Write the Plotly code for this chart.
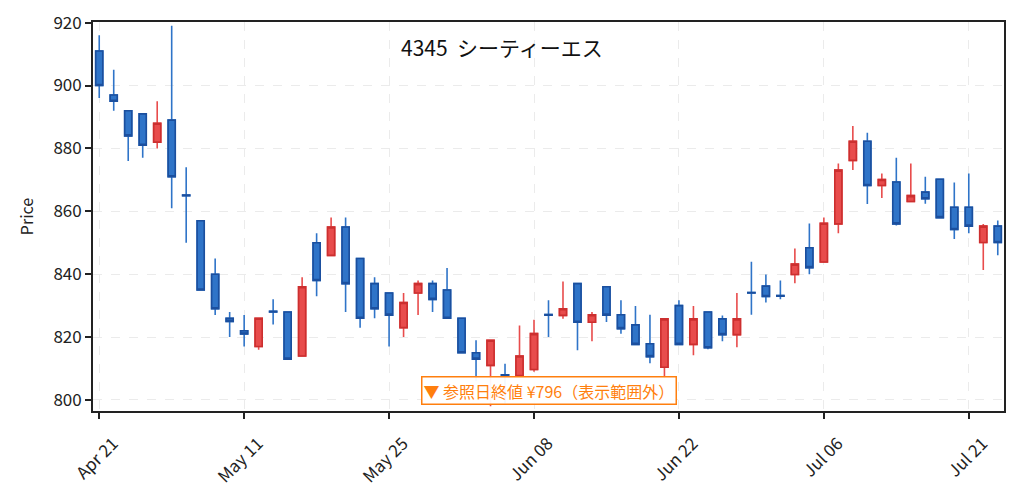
import plotly.graph_objects as go

# trading days (2026, Tokyo) shown as categories on the x axis
dates = [
    "2026-04-21", "2026-04-22", "2026-04-23", "2026-04-24", "2026-04-27",
    "2026-04-28", "2026-04-30", "2026-05-01", "2026-05-07", "2026-05-08",
    "2026-05-11", "2026-05-12", "2026-05-13", "2026-05-14", "2026-05-15",
    "2026-05-18", "2026-05-19", "2026-05-20", "2026-05-21", "2026-05-22",
    "2026-05-25", "2026-05-26", "2026-05-27", "2026-05-28", "2026-05-29",
    "2026-06-01", "2026-06-02", "2026-06-03", "2026-06-04", "2026-06-05",
    "2026-06-08", "2026-06-09", "2026-06-10", "2026-06-11", "2026-06-12",
    "2026-06-15", "2026-06-16", "2026-06-17", "2026-06-18", "2026-06-19",
    "2026-06-22", "2026-06-23", "2026-06-24", "2026-06-25", "2026-06-26",
    "2026-06-29", "2026-06-30", "2026-07-01", "2026-07-02", "2026-07-03",
    "2026-07-06", "2026-07-07", "2026-07-08", "2026-07-09", "2026-07-10",
    "2026-07-13", "2026-07-14", "2026-07-15", "2026-07-16", "2026-07-17",
    "2026-07-21", "2026-07-22", "2026-07-23",
]

open_ = [911, 897, 892, 891, 882, 889, 865.2, 857, 840, 826,
         822, 817, 828.2, 828, 814, 850, 846, 855, 845, 837,
         834, 823, 834, 837, 835, 826, 815, 811, 808, 807.8,
         809.7, 827.2, 826.9, 837, 824.7, 836, 827.1, 823.9, 817.9, 810.4,
         830, 817.7, 828, 825.8, 820.8, 834.2, 836.2, 833.2, 839.9, 848.4,
         843.9, 856, 876.2, 882.3, 868.2, 869.3, 863.1, 866.1, 870.2, 861.3,
         861.3, 850.1, 855.3]
high = [916, 905, 892, 891, 895, 919, 874, 857, 845, 828,
        827, 826, 832, 828, 839, 853, 858, 858, 845, 839,
        834, 834, 838, 838, 842, 826, 819, 819, 811.5, 823.7,
        825.5, 831.7, 837.7, 837, 828, 836, 831.7, 829.9, 827.1, 825.8,
        831.7, 829.9, 828, 826.9, 834, 844, 839.9, 838, 848.2, 856.1,
        858, 875.2, 887.1, 885, 872, 877, 875.2, 871, 870.2, 869.2,
        872, 856, 857.1]
low = [896, 892, 876, 877, 880, 861, 850, 835, 827, 820,
       817, 816, 824, 813, 814, 833, 846, 828, 823, 826,
       817, 820, 827, 828, 826, 815, 806, 798, 799, 807.8,
       809, 820, 825.8, 815.8, 818.7, 824.8, 821.1, 817.7, 811.7, 806.9,
       817.7, 814.2, 816.1, 818.7, 816.8, 827.1, 831, 832, 837.1, 840,
       843.9, 853, 873.1, 862.3, 864.2, 855.5, 863.1, 862.4, 858, 851.2,
       853, 841.3, 846]
close = [900, 895, 884, 881, 888, 871, 865, 835, 829, 825,
         821, 826, 828, 813, 836, 838, 855, 837, 826, 829,
         827, 831, 837, 832, 826, 815, 813, 819, 807.8, 814,
         821.1, 827, 829, 824.7, 827.1, 827, 822.7, 817.7, 813.8, 825.8,
         817.7, 825.8, 816.6, 820.8, 825.8, 834, 832.9, 833, 843.2, 842.1,
         856.2, 873.1, 882.3, 868.2, 870.1, 856, 865, 864, 858, 854.2,
         855.3, 855.3, 850.1]

tick_idx = [0, 10, 20, 30, 40, 50, 60]
tick_text = ["Apr 21", "May 11", "May 25", "Jun 08", "Jun 22", "Jul 06", "Jul 21"]
y_ticks = [800, 820, 840, 860, 880, 900, 920]

title_text = "4345  シーティーエス"
note_text = "▼ 参照日終値 ¥796（表示範囲外）"

UP_FILL, UP_EDGE = "#e84c4c", "#cc2f2f"
DN_FILL, DN_EDGE = "#2f74c8", "#1b4f9e"
FONT = "Noto Sans CJK JP"

fig = go.Figure()

# full candles: wicks in the lighter colour
fig.add_trace(go.Candlestick(
    x=dates, open=open_, high=high, low=low, close=close,
    increasing=dict(line=dict(color=UP_FILL, width=1.6), fillcolor=UP_FILL),
    decreasing=dict(line=dict(color=DN_FILL, width=1.6), fillcolor=DN_FILL),
    whiskerwidth=0, showlegend=False, hoverinfo="skip",
))

# bodies only, redrawn with the darker outline
body_hi = [max(o, c) for o, c in zip(open_, close)]
body_lo = [min(o, c) for o, c in zip(open_, close)]
fig.add_trace(go.Candlestick(
    x=dates, open=open_, high=body_hi, low=body_lo, close=close,
    increasing=dict(line=dict(color=UP_EDGE, width=1.6), fillcolor=UP_FILL),
    decreasing=dict(line=dict(color=DN_EDGE, width=1.6), fillcolor=DN_FILL),
    whiskerwidth=0, showlegend=False,
))

axis_style = dict(
    showline=True, linecolor="#222222", linewidth=1.8, mirror=True,
    ticks="outside", ticklen=6, tickwidth=1.6, tickcolor="#222222",
    showgrid=True, gridcolor="#ebebeb", griddash="dash", gridwidth=1,
    zeroline=False, automargin=False,
)

# page body has an 8px margin, so the figure is sized to fit the window
fig.update_layout(
    width=1011, height=492,
    margin=dict(l=85, r=15, t=14, b=89),
    paper_bgcolor="white", plot_bgcolor="white",
    font=dict(family=FONT, size=16, color="#222222"),
    xaxis=dict(
        type="category", range=[-0.43, len(dates) - 0.57],
        tickvals=[dates[i] for i in tick_idx], ticktext=tick_text,
        tickangle=-45, tickfont=dict(size=17),
        ticklabelshift=14, ticklabelstandoff=8,
        rangeslider=dict(visible=False), **axis_style,
    ),
    yaxis=dict(
        range=[796.5, 920.2], tickvals=y_ticks, tickfont=dict(size=17),
        title=dict(text="Price", font=dict(size=16), standoff=16),
        **axis_style,
    ),
    annotations=[
        dict(text=title_text.replace(" ", "\u00a0"), xref="paper", yref="paper",
             x=0.449, y=0.936, xanchor="center", yanchor="middle",
             showarrow=False, font=dict(size=21, color="#111111", family=FONT)),
        dict(text=note_text, xref="paper", yref="paper", x=0.5, y=0.053,
             xanchor="center", yanchor="middle", showarrow=False,
             font=dict(size=16, color="#ff7f0e", family=FONT),
             bgcolor="rgba(255,255,255,0.95)", bordercolor="#ff7f0e",
             borderwidth=1.5, borderpad=1),
    ],
)

fig.write_html("out.html")
